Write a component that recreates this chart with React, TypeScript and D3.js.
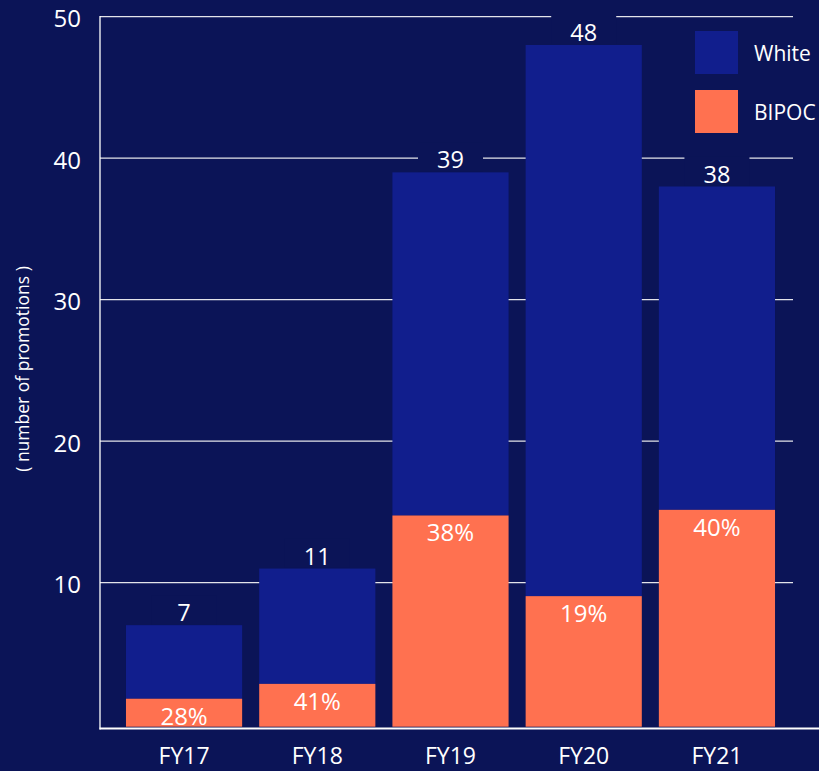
import React, { useEffect } from "react";
import * as d3 from "d3";

const categories = ["FY17", "FY18", "FY19", "FY20", "FY21"];
const totals = [7, 11, 39, 48, 38];
const bipoc = [1.8, 2.85, 14.75, 9.05, 15.15];
const pctLabels = ["28%", "41%", "38%", "19%", "40%"];
const yTicks = [10, 20, 30, 40, 50];
const legendItems = ["White", "BIPOC"];

const W = 819;
const H = 771;
const BG = "#0b1457";
const BLUE = "#111e8d";
const ORANGE = "#ff7150";
const FONT = "'Open Sans', 'Noto Sans', sans-serif";

export default function App() {
  useEffect(() => {
    document.body.style.margin = "0";
    document.body.style.background = BG;
  }, []);

  const x = d3
    .scaleBand<string>()
    .domain(categories)
    .range([100, 801])
    .paddingInner(0.128)
    .paddingOuter(0.195);
  const y = d3.scaleLinear().domain([0, 50]).range([724.2, 16.7]);
  const bw = x.bandwidth();
  const base = y(0) + 2.5;
  const legendColors = [BLUE, ORANGE];

  return (
    <svg width={W} height={H} style={{ position: "fixed", left: 0, top: 0, display: "block" }}>
      <rect x={0} y={0} width={W} height={H} fill={BG} />
      {/* gridlines */}
      {yTicks.map((t) => (
        <line key={"g" + t} x1={100} x2={793} y1={y(t)} y2={y(t)} stroke="#e4e4ea" strokeWidth={1.2} />
      ))}
      {/* y tick labels */}
      {yTicks.map((t) => (
        <text
          key={"t" + t}
          x={81}
          y={y(t) + 1}
          textAnchor="end"
          dominantBaseline="central"
          fill="#ffffff"
          fontFamily={FONT}
          fontSize={24}
        >
          {t}
        </text>
      ))}
      {/* y axis title */}
      <text
        transform={`translate(22,${369}) rotate(-90)`}
        textAnchor="middle"
        dominantBaseline="central"
        fill="#ffffff"
        fontFamily={FONT}
        fontSize={17.5}
      >
        ( number of promotions )
      </text>
      {/* bars */}
      {categories.map((c, i) => {
        const x0 = x(c)!;
        return (
          <g key={c}>
            <rect x={x0} y={y(totals[i])} width={bw} height={y(bipoc[i]) - y(totals[i])} fill={BLUE} />
            <rect x={x0} y={y(bipoc[i])} width={bw} height={base - y(bipoc[i])} fill={ORANGE} />
            <rect x={x0 + bw / 2 - 32.5} y={y(totals[i]) - 30} width={65} height={29} fill={BG} />
            <text
              x={x0 + bw / 2}
              y={y(totals[i]) - 4}
              textAnchor="middle"
              fill="#ffffff"
              fontFamily={FONT}
              fontSize={23.5}
            >
              {totals[i]}
            </text>
            <text
              x={x0 + bw / 2}
              y={y(bipoc[i]) + 26}
              textAnchor="middle"
              fill="#ffffff"
              fontFamily={FONT}
              fontSize={24}
            >
              {pctLabels[i]}
            </text>
            <text
              x={x0 + bw / 2}
              y={763.5}
              textAnchor="middle"
              fill="#ffffff"
              fontFamily={FONT}
              fontSize={23}
            >
              {c}
            </text>
          </g>
        );
      })}
      {/* axes */}
      <line x1={100} x2={100} y1={16} y2={729.5} stroke="#ffffff" strokeWidth={1.3} />
      <line x1={99.5} x2={W} y1={728.5} y2={728.5} stroke="#ffffff" strokeWidth={2} />
      {/* legend */}
      {legendItems.map((name, i) => (
        <g key={name} transform={`translate(695,${31 + i * 59})`}>
          <rect x={0} y={0} width={43} height={43} fill={legendColors[i]} />
          <text
            x={59}
            y={22}
            dominantBaseline="central"
            fill="#ffffff"
            fontFamily={FONT}
            fontSize={21}
          >
            {name}
          </text>
        </g>
      ))}
    </svg>
  );
}
